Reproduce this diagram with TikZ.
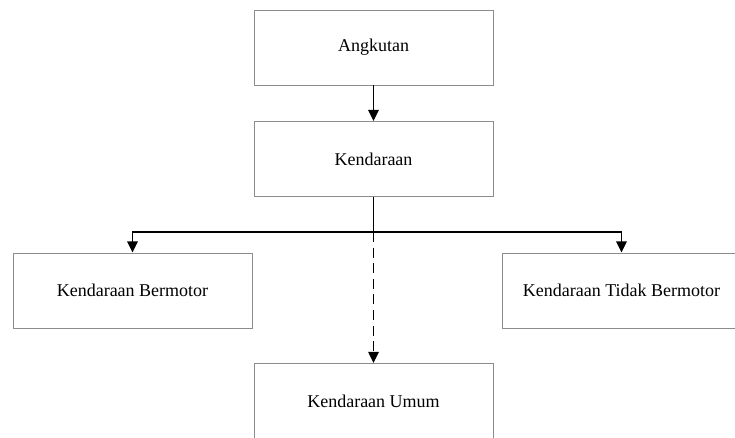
\documentclass[tikz,border=0pt]{standalone}
\usepackage{fontspec}
\setmainfont{Liberation Serif}
\usetikzlibrary{arrows.meta}

\begin{document}
\begin{tikzpicture}
    [x=0.025cm, y=-0.025cm,
    % Boxes for every kind
    kind/.style={rectangle, draw=black!45, line width=0.6pt, align=center, minimum width=5.975cm, minimum height=1.875cm, font=\fontsize{12.8}{15}\selectfont},
    % Connectors
    line/.style={draw, line width=1.3pt, -{Triangle[length=0.28cm,width=0.26cm]}},
    dashline/.style={line, dash pattern=on 0.25cm off 0.14cm}]
    \clip (0,0) rectangle (735,437);
    \useasboundingbox (0,0) rectangle (735,437);
    % Top layer
    \node [kind] (angkutan) at (373.5,47.5) {Angkutan};
    \node [kind] (kendaraan) at (373.5,159) {Kendaraan};
    % Kinds of vehicles
    \node [kind] (bermotor) at (132.5,290.5) {Kendaraan Bermotor};
    \node [kind] (tidakbermotor) at (621.5,290.5) {Kendaraan Tidak Bermotor};
    \node [kind, anchor=north] (umum) at (373.5,363) {Kendaraan Umum};
    % Connectors
    \draw [line] (angkutan) -- (kendaraan);
    \draw [line width=1.3pt] (kendaraan.south) -- ++(0,35) coordinate (split);
    \draw [line] (split) -| (bermotor.north);
    \draw [line] (split) -| (tidakbermotor.north);
    \draw [dashline] (split) -- (umum.north);
\end{tikzpicture}
\end{document}
